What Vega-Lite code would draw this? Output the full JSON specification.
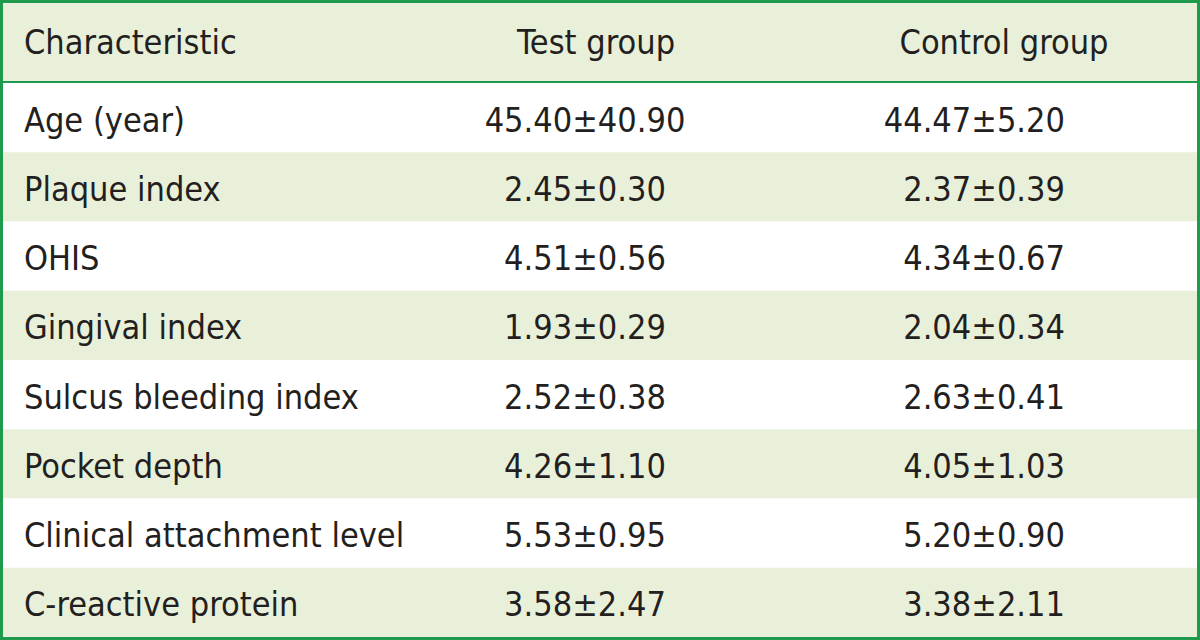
{
  "$schema": "https://vega.github.io/schema/vega-lite/v6.json",
  "padding": 3,
  "background": "#1d9a4b",
  "config": {
    "view": {"stroke": null},
    "concat": {"spacing": 2},
    "text": {"font": "DejaVu Sans Condensed, sans-serif", "fontSize": 34, "color": "#231f20", "baseline": "middle", "dy": 3}
  },
  "datasets": {
    "header": [
      {"col": "Characteristic"},
      {"col": "Test group"},
      {"col": "Control group"}
    ],
    "rows": [
      {"Characteristic": "Age (year)", "Test group": "45.40±40.90", "Control group": "44.47±5.20"},
      {"Characteristic": "Plaque index", "Test group": "2.45±0.30", "Control group": "2.37±0.39"},
      {"Characteristic": "OHIS", "Test group": "4.51±0.56", "Control group": "4.34±0.67"},
      {"Characteristic": "Gingival index", "Test group": "1.93±0.29", "Control group": "2.04±0.34"},
      {"Characteristic": "Sulcus bleeding index", "Test group": "2.52±0.38", "Control group": "2.63±0.41"},
      {"Characteristic": "Pocket depth", "Test group": "4.26±1.10", "Control group": "4.05±1.03"},
      {"Characteristic": "Clinical attachment level", "Test group": "5.53±0.95", "Control group": "5.20±0.90"},
      {"Characteristic": "C-reactive protein", "Test group": "3.58±2.47", "Control group": "3.38±2.11"}
    ]
  },
  "vconcat": [
    {
      "width": 1194,
      "height": 78,
      "view": {"fill": "#e9f0da", "stroke": null},
      "data": {"name": "header"},
      "encoding": {
        "x": {"field": "col", "type": "nominal", "bandPosition": 0, "scale": {"type": "band", "domain": ["Characteristic", "Test group", "Control group"], "paddingInner": 0, "paddingOuter": 0}, "axis": null},
        "text": {"field": "col"}
      },
      "layer": [
        {"transform": [{"filter": "datum.col === 'Characteristic'"}], "mark": {"type": "text", "align": "left", "dx": 21, "dy": 2}},
        {"transform": [{"filter": "datum.col === 'Test group'"}], "mark": {"type": "text", "align": "center", "dx": 195, "dy": 2}},
        {"transform": [{"filter": "datum.col === 'Control group'"}], "mark": {"type": "text", "align": "center", "dx": 205, "dy": 2}}
      ]
    },
    {
      "width": 1194,
      "height": 554,
      "view": {"fill": "#ffffff", "stroke": null},
      "data": {"name": "rows"},
      "encoding": {
        "y": {"field": "Characteristic", "type": "nominal", "sort": null, "scale": {"type": "band", "paddingInner": 0, "paddingOuter": 0}, "axis": null}
      },
      "layer": [
        {
          "mark": {"type": "rect"},
          "encoding": {
            "x": {"value": 0},
            "x2": {"value": "width"},
            "color": {"field": "Characteristic", "type": "nominal", "sort": null, "legend": null,
              "scale": {"domain": ["Age (year)", "Plaque index", "OHIS", "Gingival index", "Sulcus bleeding index", "Pocket depth", "Clinical attachment level", "C-reactive protein"],
                "range": ["#ffffff", "#e9f0da", "#ffffff", "#e9f0da", "#ffffff", "#e9f0da", "#ffffff", "#e9f0da"]}}
          }
        },
        {
          "transform": [{"fold": ["Characteristic", "Test group", "Control group"], "as": ["col", "val"]}],
          "encoding": {
            "x": {"field": "col", "type": "nominal", "scale": {"type": "band", "domain": ["Characteristic", "Test group", "Control group"], "paddingInner": 0, "paddingOuter": 0}, "axis": null, "bandPosition": 0},
            "text": {"field": "val"}
          },
          "layer": [
            {"transform": [{"filter": "datum.col === 'Characteristic'"}], "mark": {"type": "text", "align": "left", "dx": 21, "dy": 4}},
            {"transform": [{"filter": "datum.col === 'Test group'"}], "mark": {"type": "text", "align": "center", "dx": 184, "dy": 4}},
            {"transform": [{"filter": "datum.col === 'Control group'"}], "mark": {"type": "text", "align": "right", "dx": 266, "dy": 4}}
          ]
        }
      ]
    }
  ]
}
